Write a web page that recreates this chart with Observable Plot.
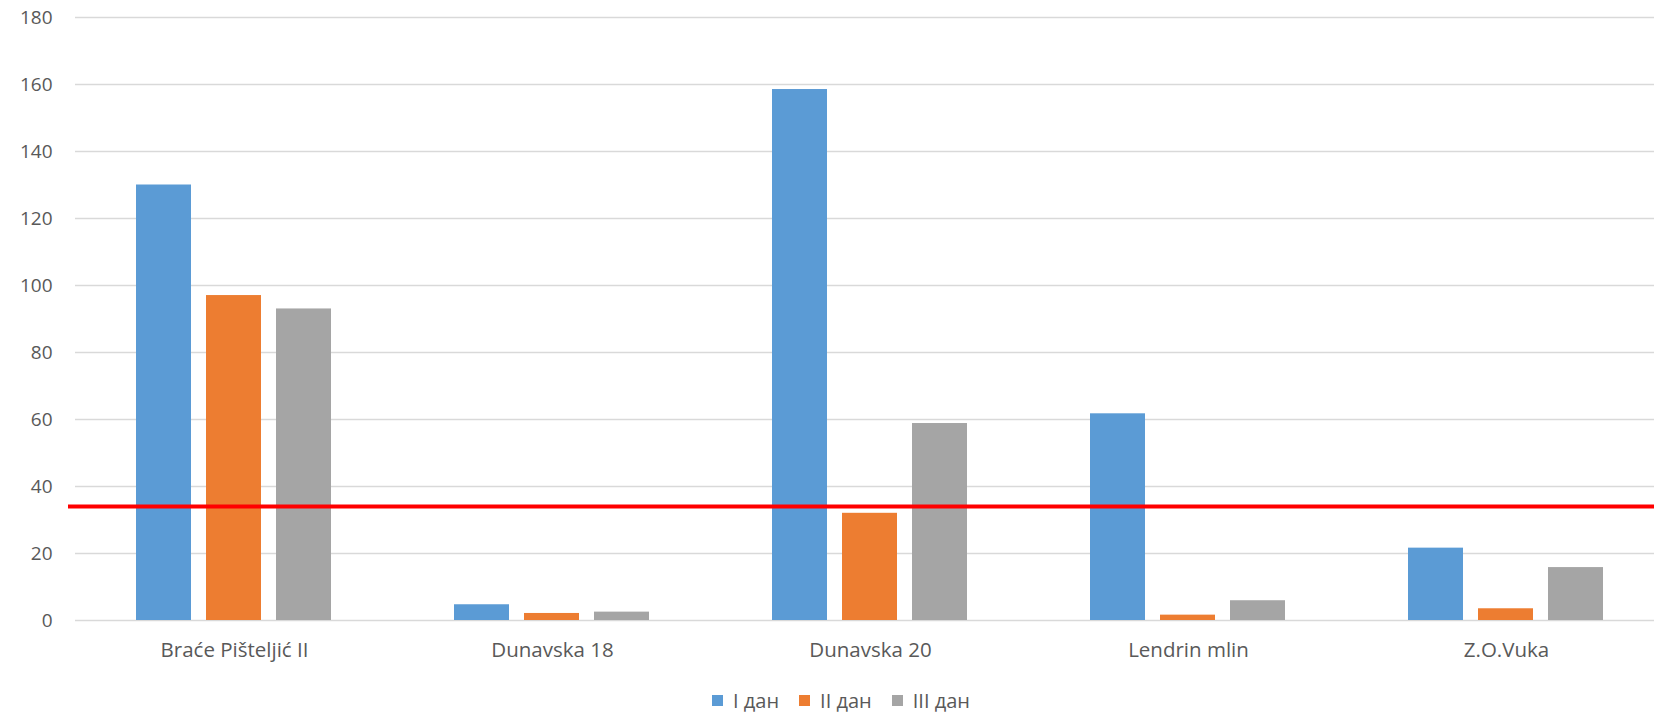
<!DOCTYPE html>
<html>
<head>
<meta charset="utf-8">
<script src="https://cdn.jsdelivr.net/npm/d3@7"></script>
<script src="https://cdn.jsdelivr.net/npm/@observablehq/plot@0.6"></script>
<style>
  html, body { margin: 0; padding: 0; background: #fff; overflow: hidden; }
  #chart { width: 1666px; }
  #legend { width: 1702px; display: flex; justify-content: center; margin-top: 9px; }
</style>
</head>
<body>
<div id="chart"></div>
<div id="legend"></div>
<script>
const categories = ["Braće Pišteljić II", "Dunavska 18", "Dunavska 20", "Lendrin mlin", "Z.O.Vuka"];
const series = ["I дан", "II дан", "III дан"];
const day1 = [130, 4.7, 158.5, 61.7, 21.6];
const day2 = [97, 2.1, 32, 1.6, 3.5];
const day3 = [93, 2.5, 58.8, 5.9, 15.8];
const limit = 34;
const yTicks = [0, 20, 40, 60, 80, 100, 120, 140, 160, 180];
const colors = ["#5B9BD5", "#ED7D31", "#A5A5A5"];

const seriesValues = [day1, day2, day3];
const data = [];
categories.forEach((c, i) => {
  series.forEach((s, j) => data.push({category: c, series: s, value: seriesValues[j][i]}));
});
const limitFirst = [{category: categories[0], y: limit}];
const limitRest = categories.slice(1).map(c => ({category: c, y: limit}));

const font = {fontFamily: "'Open Sans', sans-serif", fontSize: "19px", color: "#595959", background: "#fff"};

const chart = Plot.plot({
  width: 1666,
  height: 675,
  marginLeft: 73,
  marginRight: 0,
  marginTop: 17,
  marginBottom: 55,
  style: font,
  fx: {domain: categories, padding: 0, label: null},
  x: {domain: series, paddingInner: 0.214, paddingOuter: 0.86, axis: null},
  y: {domain: [0, 180], label: null},
  color: {domain: series, range: colors},
  marks: [
    Plot.gridY(yTicks, {stroke: "#d9d9d9", strokeOpacity: 1, strokeWidth: 1.5}),
    Plot.barY(data, {fx: "category", x: "series", y: "value", fill: "series"}),
    Plot.ruleY(limitFirst, {fx: "category", y: "y", stroke: "#ff0000", strokeWidth: 4, insetLeft: -7}),
    Plot.ruleY(limitRest, {fx: "category", y: "y", stroke: "#ff0000", strokeWidth: 4}),
    Plot.axisY(yTicks, {tickSize: 0, tickPadding: 23, label: null}),
    Plot.axisFx({anchor: "bottom", tickSize: 0, tickPadding: 22, label: null, fontSize: 20.5})
  ]
});
document.getElementById("chart").appendChild(chart);

const legend = Plot.legend({
  color: {domain: series, range: colors},
  legend: "swatches",
  swatchSize: 11,
  style: {fontFamily: "'Open Sans', sans-serif", fontSize: "20px", color: "#595959"}
});
document.getElementById("legend").appendChild(legend);
</script>
</body>
</html>
